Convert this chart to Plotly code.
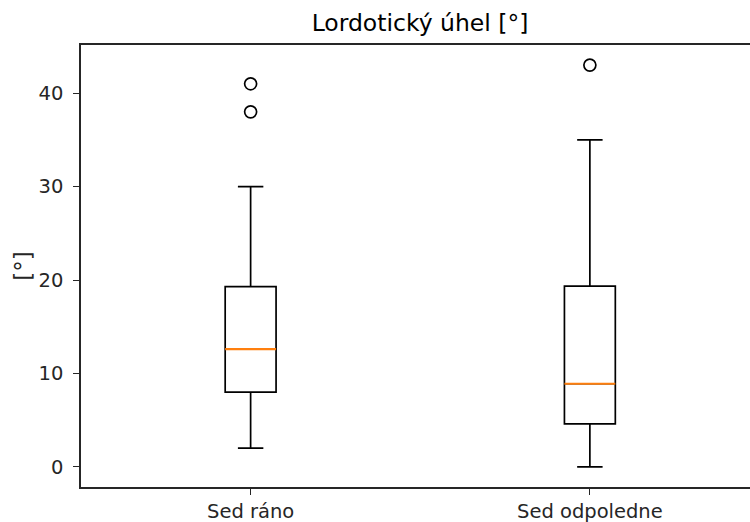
import plotly.graph_objects as go

categories = ["Sed ráno", "Sed odpoledne"]
positions = [1, 2]
q1 = [8.0, 4.6]
median = [12.6, 8.9]
q3 = [19.3, 19.35]
lower_whisker = [2.0, 0.0]
upper_whisker = [30.0, 35.0]
outliers = [[41.0, 38.0], [43.0]]
box_width = 0.15

fig = go.Figure()
for i, pos in enumerate(positions):
    fig.add_trace(go.Box(
        x=[pos], q1=[q1[i]], median=[median[i]], q3=[q3[i]],
        lowerfence=[lower_whisker[i]], upperfence=[upper_whisker[i]],
        width=box_width, whiskerwidth=0.5, boxpoints=False,
        fillcolor="rgba(0,0,0,0)", line=dict(color="black", width=1.7),
        showlegend=False, hoverinfo="skip",
    ))
    fig.add_trace(go.Scatter(
        x=[pos - box_width / 2, pos + box_width / 2], y=[median[i], median[i]],
        mode="lines", line=dict(color="#ff7f0e", width=2.2),
        showlegend=False, hoverinfo="skip",
    ))
    fig.add_trace(go.Scatter(
        x=[pos] * len(outliers[i]), y=outliers[i], mode="markers",
        marker=dict(symbol="circle-open", size=12, color="black", line=dict(width=1.7)),
        showlegend=False, hoverinfo="skip",
    ))

fig.update_layout(
    width=750, height=522,
    margin=dict(l=81, r=0, t=45, b=35),
    plot_bgcolor="white", paper_bgcolor="white",
    font=dict(family="DejaVu Sans", size=19.5, color="#262626"),
    title=dict(text="Lordotický úhel [°]", x=420 / 750, xanchor="center",
               y=1 - 23 / 522, yanchor="middle", font=dict(size=23.5, color="black")),
)
fig.update_xaxes(
    range=[0.5, 2.472], tickvals=positions, ticktext=categories,
    showline=True, linecolor="#262626", linewidth=1.6, mirror=True,
    ticks="outside", ticklen=6, tickwidth=1.2, tickcolor="#262626",
    showgrid=False, zeroline=False,
)
fig.update_yaxes(
    range=[-2.15, 45.15], tickvals=[0, 10, 20, 30, 40],
    showline=True, linecolor="#262626", linewidth=1.6,
    ticks="outside", ticklen=6, tickwidth=1.2, tickcolor="#262626",
    ticklabelstandoff=6,
    showgrid=False, zeroline=False,
    title=dict(text="[°]", standoff=0),
)

fig.write_html("out.html")
